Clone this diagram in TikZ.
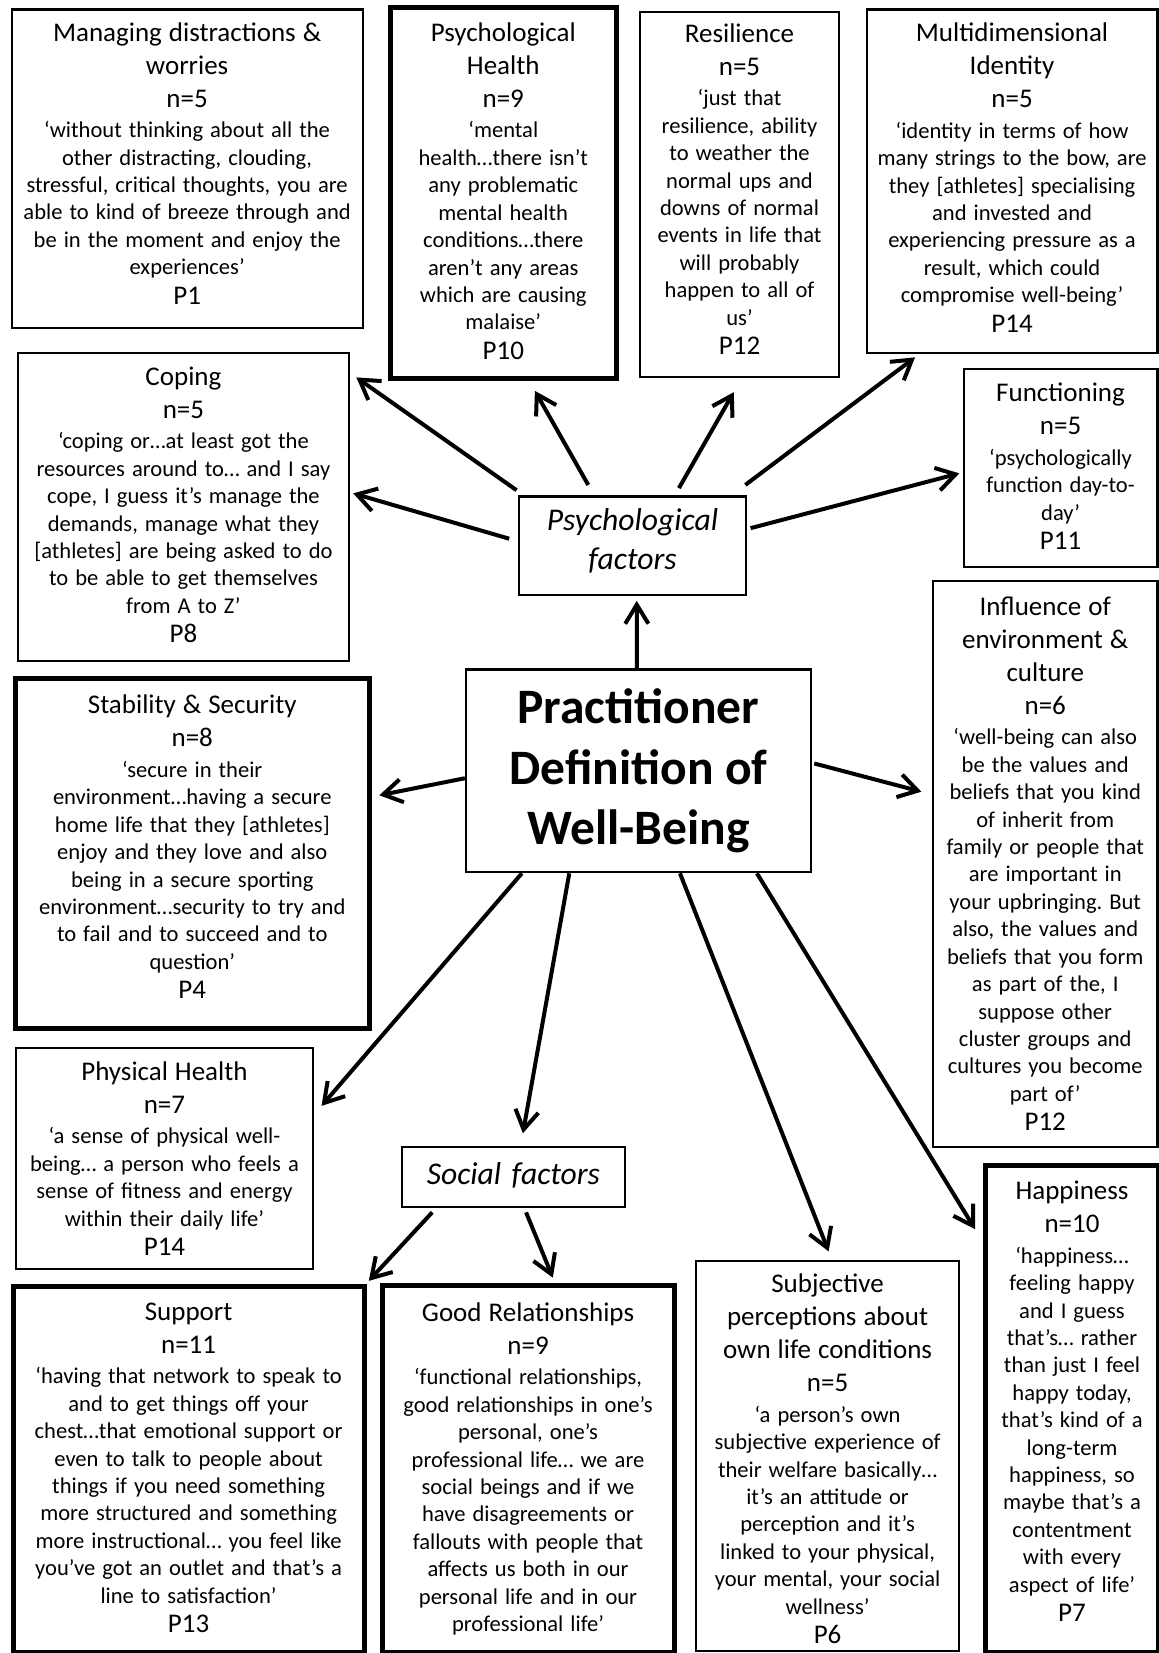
\documentclass[tikz,border=0pt]{standalone}
\usepackage{fontspec}
\setmainfont{Carlito}
\usetikzlibrary{arrows.meta,calc}
\frenchspacing

% font sizes: headings, quotations, participant codes
\newcommand\hdf{\fontsize{12.8}{15.6}\selectfont}
\newcommand\bdf{\fontsize{10.7}{13}\selectfont}
\newcommand\pnf{\fontsize{12.8}{14}\selectfont}
% invisible bottom padding that keeps the text block raised
\newcommand\padbottom[1]{\par\vspace*{#1}\hrule height 0pt\relax}
% theme box contents: [bottom padding] title, count, quotation, participant
\newcommand\themetext[5][0pt]{{\hdf #2\par}{\hdf #3\par}\vspace{1.5pt}{\bdf #4\par}{\pnf #5\par}\padbottom{#1}}

\tikzset{
  themebox/.style={draw, line width=1pt, anchor=north west, align=center, inner sep=2pt},
  heavy/.style={line width=2.4pt},
  factorbox/.style={draw, line width=1pt, anchor=north west, align=center, inner sep=2pt,
    font=\fontsize{15}{18.5}\selectfont\itshape},
  arr/.style={line width=1.9pt, -{Straight Barb[length=9pt,width=11pt]}},
}

\begin{document}
\begin{tikzpicture}[x=0.5pt, y=-0.5pt]
\fill[white] (0,0) rectangle (1099,1568);
\useasboundingbox (0,0) rectangle (1099,1568);

% ---- top row ----
\node[themebox, minimum width=166.5pt, minimum height=151pt, text width=161pt] (mgmt) at (10,8)
  {\themetext[5pt]{Managing distractions \&\\worries}{n=5}{‘without thinking about all the\\other distracting, clouding,\\stressful, critical thoughts, you are\\able to kind of breeze through and\\be in the moment and enjoy the\\experiences’}{P1}};

\node[themebox, heavy, minimum width=107pt, minimum height=176pt, text width=101pt] (psyh) at (368,5)
  {\themetext[2pt]{Psychological\\Health}{n=9}{‘mental\\health…there isn’t\\any problematic\\mental health\\conditions…there\\aren’t any areas\\which are causing\\malaise’}{P10}};

\node[themebox, minimum width=94.5pt, minimum height=173.5pt, text width=89pt] (resil) at (606,10)
  {\themetext[5pt]{Resilience}{n=5}{‘just that\\resilience, ability\\to weather the\\normal ups and\\downs of normal\\events in life that\\will probably\\happen to all of\\us’}{P12}};

\node[themebox, minimum width=138pt, minimum height=163pt, text width=133pt] (multi) at (821,8)
  {\themetext[3.5pt]{Multidimensional\\Identity}{n=5}{‘identity in terms of how\\many strings to the bow, are\\they [athletes] specialising\\and invested and\\experiencing pressure as a\\result, which could\\compromise well-being’}{P14}};

% ---- psychological factors group ----
\node[themebox, minimum width=157pt, minimum height=146pt, text width=152pt] (coping) at (16,334)
  {\themetext[2pt]{Coping}{n=5}{‘coping or…at least got the\\resources around to… and I say\\cope, I guess it’s manage the\\demands, manage what they\\{}[athletes] are being asked to do\\to be able to get themselves\\from A to Z’}{P8}};

\node[themebox, minimum width=92pt, minimum height=94pt, text width=87pt] (func) at (913,349)
  {\themetext[1.5pt]{Functioning}{n=5}{‘psychologically\\function day-to-\\day’}{P11}};

\node[factorbox, minimum width=108pt, minimum height=46.5pt, text width=102pt] (psyf) at (491,470)
  {Psychological\\factors\padbottom{4pt}};

% ---- centre ----
\node[draw, line width=1.2pt, anchor=north west, align=center,
      minimum width=163.5pt, minimum height=96pt,
      font=\fontsize{23.5}{28.5}\selectfont\bfseries] (central) at (441,634)
  {Practitioner\\Definition of\\Well-Being};

\node[themebox, heavy, minimum width=168pt, minimum height=166pt, text width=163pt] (stab) at (12,641)
  {\themetext[6pt]{Stability \& Security}{n=8}{‘secure in their\\environment…having a secure\\home life that they [athletes]\\enjoy and they love and also\\being in a secure sporting\\environment…security to try and\\to fail and to succeed and to\\question’}{P4}};

\node[themebox, minimum width=106.5pt, minimum height=268.5pt, text width=101pt] (infl) at (884,550)
  {\themetext{Influence of\\environment \&\\culture}{n=6}{‘well-being can also\\be the values and\\beliefs that you kind\\of inherit from\\family or people that\\are important in\\your upbringing. But\\also, the values and\\beliefs that you form\\as part of the, I\\suppose other\\cluster groups and\\cultures you become\\part of’}{P12}};

\node[themebox, minimum width=141pt, minimum height=105pt, text width=136pt] (phys) at (14,993)
  {\themetext{Physical Health}{n=7}{‘a sense of physical well-\\being… a person who feels a\\sense of fitness and energy\\within their daily life’}{P14}};

% ---- social factors group ----
\node[factorbox, minimum width=106pt, minimum height=28.5pt, text width=100pt] (social) at (380,1087)
  {Social factors\padbottom{2pt}};

\node[themebox, heavy, minimum width=166.5pt, minimum height=173.5pt, text width=161pt] (support) at (10,1218)
  {\themetext[1.5pt]{Support}{n=11}{‘having that network to speak to\\and to get things off your\\chest…that emotional support or\\even to talk to people about\\things if you need something\\more structured and something\\more instructional… you feel like\\you’ve got an outlet and that’s a\\line to satisfaction’}{P13}};

\node[themebox, heavy, minimum width=138.5pt, minimum height=174pt, text width=133pt] (goodrel) at (360,1217)
  {\themetext{Good Relationships}{n=9}{‘functional relationships,\\good relationships in one’s\\personal, one’s\\professional life… we are\\social beings and if we\\have disagreements or\\fallouts with people that\\affects us both in our\\personal life and in our\\professional life’}{}};

\node[themebox, minimum width=125pt, minimum height=185pt, text width=120pt] (subj) at (659,1195)
  {\themetext[-3pt]{Subjective\\perceptions about\\own life conditions}{n=5}{‘a person’s own\\subjective experience of\\their welfare basically…\\it’s an attitude or\\perception and it’s\\linked to your physical,\\your mental, your social\\wellness’}{P6}};

\node[themebox, heavy, minimum width=82.5pt, minimum height=231pt, text width=77pt] (happy) at (932,1103)
  {\themetext[7pt]{Happiness}{n=10}{‘happiness…\\feeling happy\\and I guess\\that’s… rather\\than just I feel\\happy today,\\that’s kind of a\\long-term\\happiness, so\\maybe that’s a\\contentment\\with every\\aspect of life’}{P7}};

% ---- connectors from the psychological factors ----
\draw[arr] ($(psyf.north west)+(-1,-5)$) -- ($(coping.north east)+(6,24)$);
\draw[arr] ($(psyf.west)+(-8,-6.5)$) -- ($(coping.east)+(3,-13)$);
\draw[arr] ($(psyf.north)+(-42,-10)$) -- ($(psyh.south)+(30,9)$);
\draw[arr] ($(psyf.north)+(44,-7)$) -- ($(resil.south)+(-5.5,13)$);
\draw[arr] ($(psyf.north east)+(-2,-10)$) -- ($(multi.south west)+(47,3)$);
\draw[arr] ($(psyf.east)+(3,-16.5)$) -- ($(func.west)+(-3,5)$);

% ---- connectors from the centre ----
\draw[arr] ($(central.north)+(-1.5,0)$) -- ($(psyf.south)+(4,5)$);
\draw[arr] ($(central.west)+(0,7)$) -- ($(stab.east)+(7,-55)$);
\draw[arr] ($(central.east)+(2,-7)$) -- ($(infl.west)+(-10,-68.5)$);
\draw[arr] ($(central.south west)+(54,0)$) -- ($(phys.east)+(7,-50)$);
\draw[arr] ($(central.south west)+(99,0)$) -- ($(social.north)+(9,-12)$);
\draw[arr] ($(central.south west)+(204,0)$) -- ($(subj.north)+(1,-8)$);
\draw[arr] ($(central.south west)+(277,0)$) -- ($(happy.north west)+(-7,63)$);

% ---- connectors from the social factors ----
\draw[arr] ($(social.south west)+(30,4)$) -- ($(support.north east)+(2,-3)$);
\draw[arr] ($(social.south)+(12,4)$) -- ($(goodrel.north)+(23.5,-5)$);
\end{tikzpicture}
\end{document}
